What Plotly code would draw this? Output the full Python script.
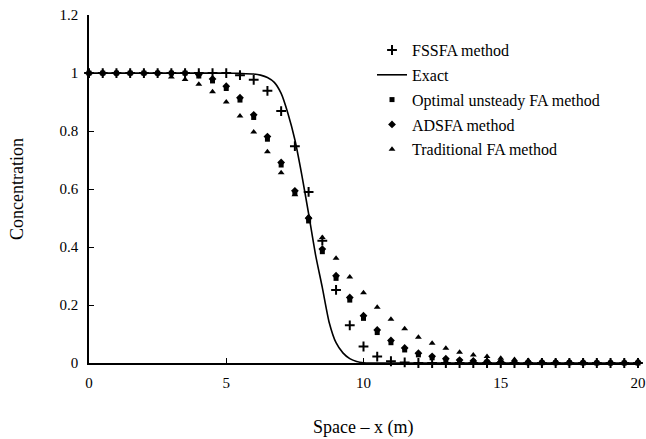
import plotly.graph_objects as go

x_pts = [i * 0.5 for i in range(41)]

fssfa = [1.0, 1.0, 1.0, 1.0, 1.0, 1.0, 1.0, 1.0, 1.0, 1.0,
         1.0, 0.993, 0.977, 0.939, 0.869, 0.748, 0.59, 0.422, 0.252, 0.13,
         0.057, 0.022, 0.006, 0.002, 0.0, 0.0, 0.0, 0.0, 0.0, 0.0,
         0.0, 0.0, 0.0, 0.0, 0.0, 0.0, 0.0, 0.0, 0.0, 0.0, 0.0]

optimal = [1.0, 1.0, 1.0, 1.0, 1.0, 1.0, 1.0, 1.0, 0.99, 0.973,
           0.947, 0.907, 0.847, 0.772, 0.683, 0.585, 0.49, 0.384, 0.292, 0.217,
           0.154, 0.105, 0.07, 0.045, 0.028, 0.018, 0.01, 0.006, 0.004, 0.003,
           0.002, 0.002, 0.001, 0.001, 0.001, 0.001, 0.0, 0.0, 0.0, 0.0, 0.0]

adsfa = [1.0, 1.0, 1.0, 1.0, 1.0, 1.0, 1.0, 1.0, 0.995, 0.98,
         0.955, 0.915, 0.856, 0.781, 0.692, 0.594, 0.499, 0.393, 0.301, 0.226,
         0.163, 0.114, 0.078, 0.052, 0.034, 0.023, 0.015, 0.01, 0.007, 0.005,
         0.004, 0.003, 0.003, 0.002, 0.002, 0.002, 0.002, 0.001, 0.001, 0.001, 0.001]

traditional = [1.0, 1.0, 1.0, 1.0, 1.0, 1.0, 0.987, 0.978, 0.962, 0.936,
               0.90, 0.852, 0.797, 0.729, 0.656, 0.58, 0.505, 0.433, 0.361, 0.297,
               0.242, 0.192, 0.151, 0.118, 0.089, 0.068, 0.051, 0.037, 0.028, 0.022,
               0.016, 0.012, 0.009, 0.007, 0.006, 0.005, 0.004, 0.004, 0.003, 0.003, 0.008]

x_exact = [0, 1, 2, 3, 4, 5, 5.5, 6.0, 6.25, 6.5, 6.75, 7.0, 7.25, 7.5, 7.75,
           8.0, 8.25, 8.5, 8.75, 9.0, 9.25, 9.5, 9.75, 10.0, 10.25, 11, 12, 14, 16, 18, 20]
exact = [1.0, 1.0, 1.0, 1.0, 1.0, 1.0, 0.999, 0.997, 0.993, 0.985, 0.968, 0.93, 0.86, 0.77, 0.65,
         0.515, 0.375, 0.26, 0.14, 0.07, 0.035, 0.015, 0.005, 0.001, 0.0, 0.0, 0.0, 0.0, 0.0, 0.0, 0.0]

x_ticks = [0, 5, 10, 15, 20]
y_ticks = [0, 0.2, 0.4, 0.6, 0.8, 1.0, 1.2]
y_tick_labels = ["0", "0.2", "0.4", "0.6", "0.8", "1", "1.2"]

FONT = "Liberation Serif, Times New Roman, serif"

fig = go.Figure()
fig.add_trace(go.Scatter(x=x_pts, y=fssfa, mode="markers", name="FSSFA method", legendgroup="a",
                         marker=dict(symbol="cross-thin", size=7, color="black",
                                     line=dict(width=2, color="black")), cliponaxis=False))
fig.add_trace(go.Scatter(x=x_exact, y=exact, mode="lines", name="Exact", legendgroup="b",
                         line=dict(color="black", width=1.6, shape="spline", smoothing=0.6), cliponaxis=False))
fig.add_trace(go.Scatter(x=x_pts, y=optimal, mode="markers", name="Optimal unsteady FA method", legendgroup="c",
                         marker=dict(symbol="square", size=5, color="black"), cliponaxis=False))
fig.add_trace(go.Scatter(x=x_pts, y=adsfa, mode="markers", name="ADSFA method", legendgroup="d",
                         marker=dict(symbol="diamond", size=6, color="black"), cliponaxis=False))
fig.add_trace(go.Scatter(x=x_pts, y=traditional, mode="markers", name="Traditional FA method", legendgroup="e",
                         marker=dict(symbol="triangle-up", size=6, color="black"), cliponaxis=False))

fig.update_layout(
    width=646, height=439,
    margin=dict(l=89, r=8, t=15, b=76, autoexpand=False),
    paper_bgcolor="white", plot_bgcolor="white",
    font=dict(family=FONT, size=15, color="black"),
    showlegend=True,
    legend=dict(x=0.5155, y=0.948, xanchor="left", yanchor="top", traceorder="grouped",
                tracegroupgap=1, font=dict(family=FONT, size=16), bgcolor="rgba(0,0,0,0)"),
    xaxis=dict(range=[0, 20], tickvals=x_ticks, ticks="inside", ticklen=5, tickwidth=1.2,
               tickcolor="black", showline=True, linecolor="black", linewidth=1.6,
               showgrid=False, zeroline=False, ticklabelstandoff=5, ticklabeloverflow="allow",
               automargin=False, tickfont=dict(family=FONT, size=15)),
    yaxis=dict(range=[0, 1.2005], tickvals=y_ticks, ticktext=y_tick_labels, ticks="inside",
               ticklen=5, tickwidth=1.2, tickcolor="black", showline=True, linecolor="black",
               linewidth=1.6, showgrid=False, zeroline=False, ticklabelstandoff=6,
               ticklabeloverflow="allow", automargin=False, tickfont=dict(family=FONT, size=15)),
    annotations=[
        dict(text="Space – x (m)", x=0.499, y=-0.184, xref="paper", yref="paper",
             showarrow=False, font=dict(family=FONT, size=18), xanchor="center", yanchor="middle"),
        dict(text="Concentration", x=-0.131, y=0.5, xref="paper", yref="paper", textangle=-90,
             showarrow=False, font=dict(family=FONT, size=18), xanchor="center", yanchor="middle"),
    ],
)

fig.write_html("out.html", config={"displayModeBar": False},
               post_script="document.body.style.margin='0';")
